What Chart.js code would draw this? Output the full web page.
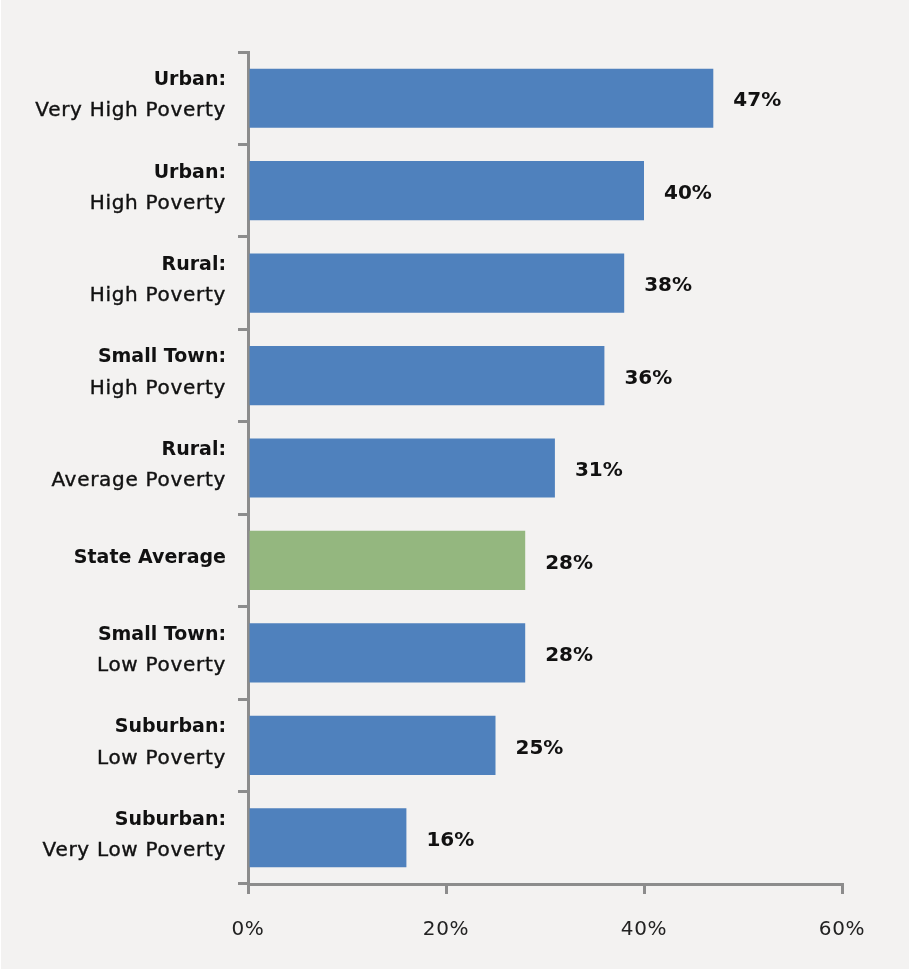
<!DOCTYPE html>
<html>
<head>
<meta charset="utf-8">
<script src="https://cdn.jsdelivr.net/npm/chart.js@4/dist/chart.umd.min.js"></script>
<style>
  html, body { margin: 0; padding: 0; background: #ffffff; }
  #wrap { position: absolute; left: 1px; top: 0; width: 908px; height: 969px; background: #f3f2f1; }
</style>
</head>
<body>
<div id="wrap"><canvas id="povertyChart" width="908" height="969"></canvas></div>
<script>
  const groupNames = ['Urban:', 'Urban:', 'Rural:', 'Small Town:', 'Rural:', 'State Average', 'Small Town:', 'Suburban:', 'Suburban:'];
  const povertyLevels = ['Very High Poverty', 'High Poverty', 'High Poverty', 'High Poverty', 'Average Poverty', '', 'Low Poverty', 'Low Poverty', 'Very Low Poverty'];
  const shares = [47, 40, 38, 36, 31, 28, 28, 25, 16];
  const xTicks = [0, 20, 40, 60];

  const blue = '#4f81bd';
  const green = '#94b77f';
  const axisGray = '#8c8c8c';
  const fontFamily = '"DejaVu Sans", "Open Sans", sans-serif';

  const categories = groupNames.map((g, i) => i);
  const barColors = groupNames.map(g => g === 'State Average' ? green : blue);

  // slightly wider tracking for the regular-weight text
  const tracking = {
    id: 'tracking',
    beforeLayout(chart) { chart.ctx.letterSpacing = '0.7px'; },
    beforeDraw(chart) { chart.ctx.letterSpacing = '0.7px'; }
  };

  // two-line category labels: bold group name, regular poverty level
  const categoryLabels = {
    id: 'categoryLabels',
    afterDraw(chart) {
      const ctx = chart.ctx;
      const y = chart.scales.y;
      ctx.save();
      ctx.fillStyle = '#111';
      ctx.strokeStyle = '#111';
      ctx.lineWidth = 0.4;
      ctx.textAlign = 'right';
      ctx.textBaseline = 'middle';
      categories.forEach((c, i) => {
        const py = y.getPixelForValue(i);
        const x = 225;
        ctx.letterSpacing = '0px';
        ctx.font = 'bold 19px ' + fontFamily;
        if (povertyLevels[i]) {
          ctx.fillText(groupNames[i], x, py - 18);
          ctx.letterSpacing = '0.7px';
          ctx.font = '20px ' + fontFamily;
          ctx.fillText(povertyLevels[i], x, py + 13);
          ctx.strokeText(povertyLevels[i], x, py + 13);
        } else {
          ctx.fillText(groupNames[i], x, py - 2);
        }
      });
      ctx.restore();
    }
  };

  // value labels to the right of each bar
  const valueLabels = {
    id: 'valueLabels',
    afterDatasetsDraw(chart) {
      const ctx = chart.ctx;
      const meta = chart.getDatasetMeta(0);
      ctx.save();
      ctx.letterSpacing = '0px';
      ctx.fillStyle = '#111';
      ctx.font = 'bold 20px ' + fontFamily;
      ctx.textAlign = 'left';
      ctx.textBaseline = 'middle';
      meta.data.forEach((bar, i) => {
        ctx.fillText(shares[i] + '%', bar.x + 20, bar.y + 3);
      });
      ctx.restore();
    }
  };

  const ctx = document.getElementById('povertyChart').getContext('2d');
  new Chart(ctx, {
    type: 'bar',
    data: {
      labels: categories,
      datasets: [{
        data: shares,
        backgroundColor: barColors,
        barPercentage: 0.64,
        categoryPercentage: 1
      }]
    },
    options: {
      indexAxis: 'y',
      responsive: false,
      animation: false,
      layout: { padding: { top: 52, right: 67, left: 0, bottom: 0 } },
      plugins: { legend: { display: false }, tooltip: { enabled: false } },
      scales: {
        x: {
          min: 0,
          max: 60,
          afterBuildTicks(scale) { scale.ticks = xTicks.map(v => ({ value: v })); },
          afterFit(scale) { scale.height = 85; },
          border: { color: axisGray, width: 3 },
          grid: { drawOnChartArea: false, color: axisGray, lineWidth: 3, tickLength: 10 },
          ticks: {
            color: '#222',
            font: { family: fontFamily, size: 20 },
            padding: 24,
            maxRotation: 0,
            callback: v => v + '%'
          }
        },
        y: {
          offset: true,
          afterFit(scale) { scale.width = 247; },
          border: { color: axisGray, width: 3 },
          grid: { drawOnChartArea: false, offset: true, color: axisGray, lineWidth: 3, tickLength: 10 },
          ticks: { display: false }
        }
      }
    },
    plugins: [tracking, categoryLabels, valueLabels]
  });
</script>
</body>
</html>
